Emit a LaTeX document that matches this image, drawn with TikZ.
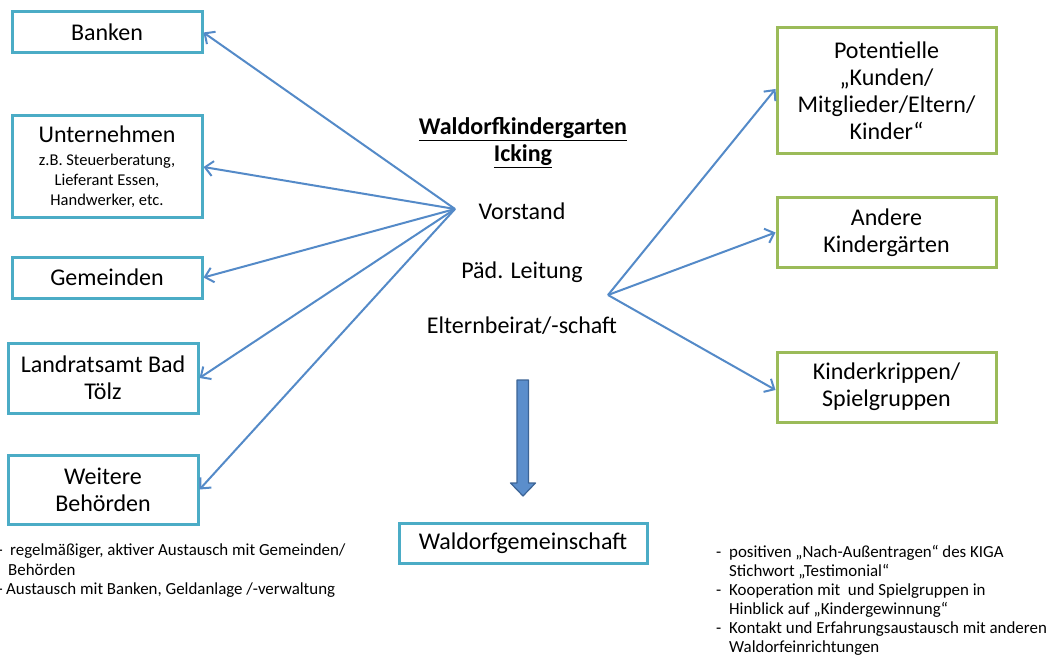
\documentclass[tikz,border=0pt]{standalone}
\usepackage{fontspec}
\setmainfont{Carlito}
\usetikzlibrary{arrows.meta}
\definecolor{cyanbox}{RGB}{75,172,198}
\definecolor{greenbox}{RGB}{155,187,89}
\definecolor{arrowblue}{RGB}{84,138,200}
\definecolor{bigfill}{RGB}{91,142,204}
\definecolor{bigedge}{RGB}{60,100,150}
\newcommand{\smalltxt}{\fontsize{16.5}{20}\selectfont}
\begin{document}
\begin{tikzpicture}[x=1pt,y=-1pt,
  bigfont/.style={font=\fontsize{24}{27}\selectfont},
  notefont/.style={font=\fontsize{16.9}{19.5}\selectfont},
  cbox/.style={draw=cyanbox,line width=3pt,fill=white,align=center,inner sep=0pt,bigfont},
  gbox/.style={draw=greenbox,line width=3pt,fill=white,align=center,inner sep=0pt,bigfont},
  link/.style={draw=arrowblue,line width=2pt,-{Straight Barb[length=8pt,width=15pt]}},
  plain/.style={inner sep=0pt,anchor=base},
  note/.style={inner sep=0pt,anchor=base west,notefont}]
\useasboundingbox (0,0) rectangle (1051,660);
\fill[white] (0,0) rectangle (1051,660);

% left boxes
\node[cbox,minimum width=190pt,minimum height=41pt] (banken) at (107,32.5) {Banken};
\node[cbox,minimum width=190pt,minimum height=102pt] (unter) at (107,167)
  {Unternehmen\\[-4pt]\smalltxt z.B. Steuerberatung,\\[-7pt] \smalltxt Lieferant Essen,\\[-7pt] \smalltxt Handwerker, etc.};
\node[cbox,minimum width=190pt,minimum height=41pt] (gem) at (107,277.5) {Gemeinden};
\node[cbox,minimum width=190pt,minimum height=70pt] (landrat) at (103,378) {Landratsamt Bad\\Tölz};
\node[cbox,minimum width=190pt,minimum height=69pt] (weitere) at (103,489.5) {Weitere\\Behörden};
\node[cbox,minimum width=248pt,minimum height=40pt] (wgem) at (523,543) {Waldorfgemeinschaft};

% right boxes
\node[gbox,minimum width=219pt,minimum height=126pt] (pot) at (886.5,91) {Potentielle\\„Kunden/\\Mitglieder/Eltern/\\Kinder“};
\node[gbox,minimum width=219pt,minimum height=69pt] (andere) at (886.5,232.5) {Andere\\Kindergärten};
\node[gbox,minimum width=219pt,minimum height=70pt] (krippe) at (886.5,387) {Kinderkrippen/\\Spielgruppen};

% centre texts
\node[plain,bigfont] (t1) at (523,135) {\underline{\textbf{Waldorfkindergarten}}};
\node[plain,bigfont] (t2) at (523,162) {\underline{\textbf{Icking}}};
\node[plain,bigfont] (t3) at (522,220) {Vorstand};
\node[plain,bigfont] (t4) at (522,278) {Päd. Leitung};
\node[plain,bigfont] (t5) at (522,333) {Elternbeirat/-schaft};

% hubs
\coordinate (hubL) at (455,209);
\coordinate (hubR) at (608,295);

\draw[link] (hubL) -- (banken.east);
\draw[link] (hubL) -- (unter.east);
\draw[link] (hubL) -- (gem.east);
\draw[link] (hubL) -- (landrat.east);
\draw[link] (hubL) -- (weitere.east);
\draw[link] (hubR) -- ([yshift=2pt]pot.west);
\draw[link] (hubR) -- (andere.west);
\draw[link] (hubR) -- ([yshift=-3pt]krippe.west);

% big down arrow
\draw[bigedge,line width=1.2pt,fill=bigfill,line join=round]
  (517,380) -- (528.5,380) -- (528.5,483) -- (535.5,483) -- (523,496) -- (510.5,483) -- (517,483) -- cycle;

% left notes
\node[note] (l1d) at (-2.5,555) {-};
\node[note] (l1) at (10,555) {regelmäßiger, aktiver Austausch mit Gemeinden/};
\node[note] (l2) at (8,575) {Behörden};
\node[note] (l3d) at (-2.5,594) {-};
\node[note] (l3) at (6,594) {Austausch mit Banken, Geldanlage /-verwaltung};

% right notes
\node[note] (r1d) at (716,557) {-};
\node[note] (r1) at (729,557) {positiven „Nach-Außentragen“ des KIGA};
\node[note] (r2) at (729,576) {Stichwort „Testimonial“};
\node[note] (r3d) at (716,595) {-};
\node[note] (r3) at (729,595) {Kooperation mit \ und Spielgruppen in};
\node[note] (r4) at (729,614) {Hinblick auf „Kindergewinnung“};
\node[note] (r5d) at (716,633) {-};
\node[note] (r5) at (729,633) {Kontakt und Erfahrungsaustausch mit anderen};
\node[note] (r6) at (729,652) {Waldorfeinrichtungen};
\end{tikzpicture}
\end{document}
